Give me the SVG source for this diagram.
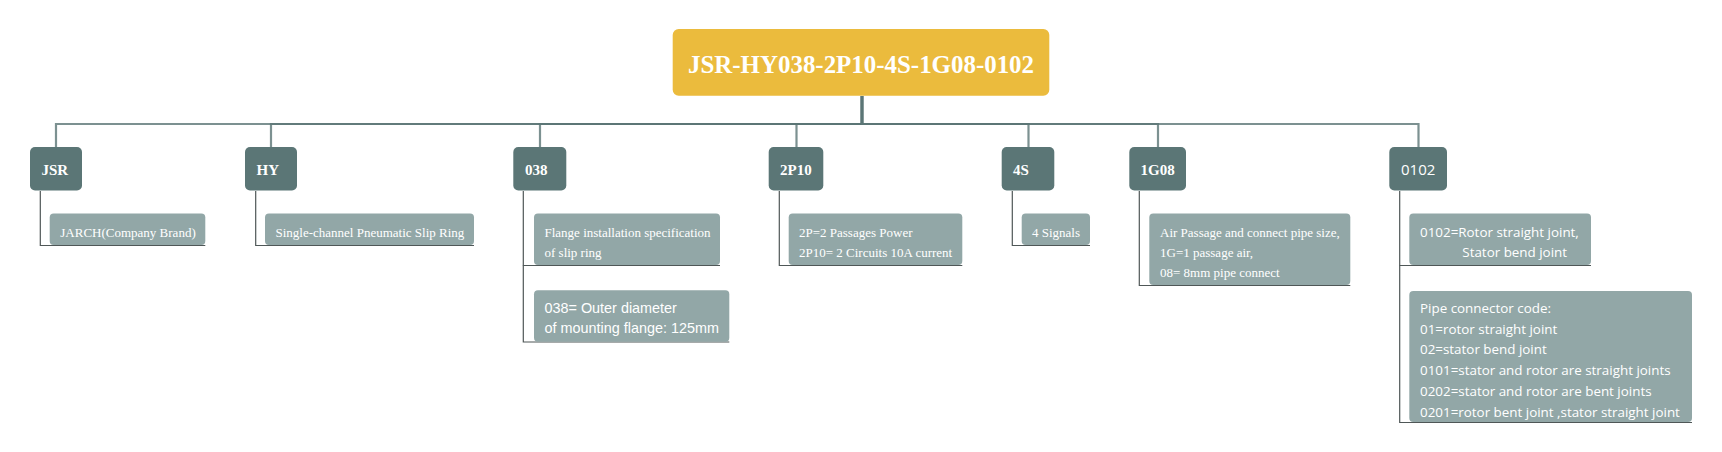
<svg xmlns="http://www.w3.org/2000/svg" width="1722" height="452" viewBox="0 0 1722 452">
<style>
.bg{fill:#ffffff}
.root{fill:#EBBB3D}
.l1{fill:#5B7676}
.l2{fill:#92A7A7}
.bus{fill:none;stroke:#5B7676;stroke-width:2.2;stroke-opacity:0.8}
.stem{fill:none;stroke:#5B7676;stroke-width:3}
.sub{fill:none;stroke:#4F5757;stroke-width:1.2}
.tt{font-family:"Liberation Serif","Times New Roman",serif;font-weight:bold;fill:#ffffff}
.t1{font-family:"Liberation Serif","Times New Roman",serif;font-weight:bold;font-size:15px;fill:#ffffff}
.t1s{font-family:"Open Sans","Noto Sans",sans-serif;font-size:15px;fill:#ffffff}
.t2{font-family:"Liberation Serif","Times New Roman",serif;font-size:13px;fill:#ffffff}
.t2s{font-family:"Open Sans","Noto Sans",sans-serif;font-size:13.4px;fill:#ffffff}
.t2n{font-family:"Liberation Sans",Arial,sans-serif;font-size:14.4px;fill:#ffffff}
</style>
<rect class="bg" x="0" y="0" width="1722" height="452"/>

<g id="connectors">
  <path class="bus" d="M862,96 V124 H56 V147"/>
  <path class="bus" d="M862,96 V124 H271 V147"/>
  <path class="bus" d="M862,96 V124 H540 V147"/>
  <path class="bus" d="M862,96 V124 H796.5 V147"/>
  <path class="bus" d="M862,96 V124 H1028.5 V147"/>
  <path class="bus" d="M862,96 V124 H1158 V147"/>
  <path class="bus" d="M862,96 V124 H1418.5 V147"/>
  <path class="stem" d="M862,96 V124"/>
  <path class="sub" d="M40.3,191 V245.5 H205.3"/>
  <path class="sub" d="M255.7,191 V245.5 H474"/>
  <path class="sub" d="M523.3,191 V265.5 H720"/>
  <path class="sub" d="M523.3,265.5 V342 H729.3"/>
  <path class="sub" d="M779.3,191 V265.5 H962.3"/>
  <path class="sub" d="M1012.3,191 V245.5 H1090"/>
  <path class="sub" d="M1139.3,191 V285.5 H1350.3"/>
  <path class="sub" d="M1399.7,191 V265.5 H1591"/>
  <path class="sub" d="M1399.7,265.5 V422.5 H1692"/>
</g>

<g id="root">
  <rect class="root" x="672.7" y="29" width="376.6" height="66.7" rx="6"/>
  <text class="tt" x="861" y="72.5" font-size="26" text-anchor="middle" textLength="346" lengthAdjust="spacingAndGlyphs">JSR-HY038-2P10-4S-1G08-0102</text>
</g>

<g id="n-jsr">
  <rect class="l1" x="30" y="147" width="52" height="43.5" rx="5"/>
  <text class="t1" x="41.5" y="174.5">JSR</text>
</g>
<g id="n-hy">
  <rect class="l1" x="245" y="147" width="52" height="43.5" rx="5"/>
  <text class="t1" x="256.5" y="174.5">HY</text>
</g>
<g id="n-038">
  <rect class="l1" x="513.3" y="147" width="53" height="43.5" rx="5"/>
  <text class="t1" x="525" y="174.5">038</text>
</g>
<g id="n-2p10">
  <rect class="l1" x="768.7" y="147" width="54.6" height="43.5" rx="5"/>
  <text class="t1" x="780" y="174.5">2P10</text>
</g>
<g id="n-4s">
  <rect class="l1" x="1001.7" y="147" width="52.6" height="43.5" rx="5"/>
  <text class="t1" x="1013" y="174.5">4S</text>
</g>
<g id="n-1g08">
  <rect class="l1" x="1129.3" y="147" width="56.7" height="43.5" rx="5"/>
  <text class="t1" x="1140.5" y="174.5">1G08</text>
</g>
<g id="n-0102">
  <rect class="l1" x="1389.3" y="147" width="57.7" height="43.5" rx="5"/>
  <text class="t1s" x="1401" y="174.5">0102</text>
</g>

<g id="c-jsr">
  <rect class="l2" x="49.7" y="213.5" width="155.6" height="31.5" rx="4"/>
  <text class="t2" x="60.3" y="236.5">JARCH(Company Brand)</text>
</g>
<g id="c-hy">
  <rect class="l2" x="265" y="213.5" width="209" height="31.5" rx="4"/>
  <text class="t2" x="275.5" y="236.5">Single-channel Pneumatic Slip Ring</text>
</g>
<g id="c-038-a">
  <rect class="l2" x="534" y="213.5" width="186" height="51.5" rx="4"/>
  <text class="t2" x="544.5" y="236.5">Flange installation specification</text>
  <text class="t2" x="544.5" y="256.5">of slip ring</text>
</g>
<g id="c-038-b">
  <rect class="l2" x="534" y="290.3" width="195.3" height="51.5" rx="4"/>
  <text class="t2n" x="544.5" y="312.8">038= Outer diameter</text>
  <text class="t2n" x="544.5" y="332.8">of mounting flange: 125mm</text>
</g>
<g id="c-2p10">
  <rect class="l2" x="788.7" y="213.5" width="173.6" height="51.5" rx="4"/>
  <text class="t2" x="799" y="236.5">2P=2 Passages Power</text>
  <text class="t2" x="799" y="256.5">2P10= 2 Circuits 10A current</text>
</g>
<g id="c-4s">
  <rect class="l2" x="1021.7" y="213.5" width="68.3" height="31.5" rx="4"/>
  <text class="t2" x="1032" y="236.5">4 Signals</text>
</g>
<g id="c-1g08">
  <rect class="l2" x="1149.3" y="213.5" width="201" height="71.5" rx="4"/>
  <text class="t2" x="1160" y="236.5">Air Passage and connect pipe size,</text>
  <text class="t2" x="1160" y="256.5">1G=1 passage air,</text>
  <text class="t2" x="1160" y="276.5">08= 8mm pipe connect</text>
</g>
<g id="c-0102-a">
  <rect class="l2" x="1409.3" y="213.5" width="181.7" height="51.5" rx="4"/>
  <text class="t2s" x="1420" y="236.5">0102=Rotor straight joint,</text>
  <text class="t2s" x="1462.3" y="256.5">Stator bend joint</text>
</g>
<g id="c-0102-b">
  <rect class="l2" x="1409.3" y="291" width="282.7" height="131" rx="4"/>
  <text class="t2s" x="1420" y="313">Pipe connector code:</text>
  <text class="t2s" x="1420" y="333.7">01=rotor straight joint</text>
  <text class="t2s" x="1420" y="354.4">02=stator bend joint</text>
  <text class="t2s" x="1420" y="375.1">0101=stator and rotor are straight joints</text>
  <text class="t2s" x="1420" y="395.8">0202=stator and rotor are bent joints</text>
  <text class="t2s" x="1420" y="416.5">0201=rotor bent joint ,stator straight joint</text>
</g>
</svg>
